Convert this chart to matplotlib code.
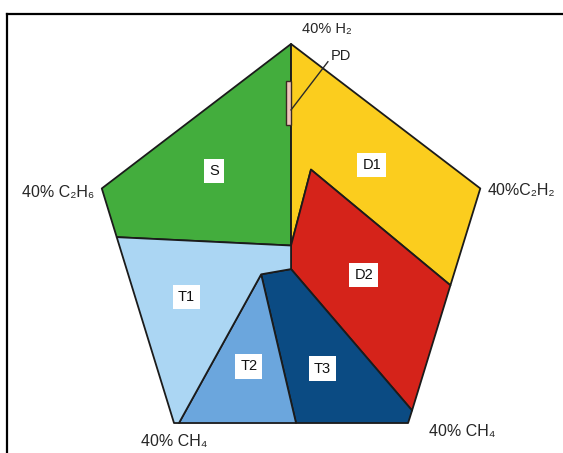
import matplotlib
matplotlib.use("Agg")
import matplotlib.pyplot as plt
from matplotlib.patches import Polygon
from matplotlib.lines import Line2D

plt.rcParams['font.family'] = ['Liberation Sans', 'DejaVu Sans']

# Duval Pentagon 1 zone boundaries (pentagon coordinates)
zone_names = ["S", "D1", "D2", "T3", "T2", "T1"]
zone_S = [(0, 1.5), (-35, 3.1), (-38, 12.4), (0, 40), (0, 1.5)]
zone_D1 = [(0, 40), (38, 12.4), (32, -6.1), (4, 16), (0, 1.5)]
zone_D2 = [(4, 16), (32, -6.1), (24.3, -30), (0, -3), (0, 1.5)]
zone_T3 = [(0, -3), (24.3, -30), (23.5, -32.4), (1, -32.4), (-6, -4)]
zone_T2 = [(-6, -4), (1, -32.4), (-22.5, -32.4)]
zone_T1 = [(-6, -4), (-22.5, -32.4), (-23.5, -32.4), (-35, 3.1), (0, 1.5), (0, -3)]
zone_PD = [(0, 33), (-1, 33), (-1, 24.5), (0, 24.5)]
zone_colors = ["#43ad3d", "#fbcd1e", "#d5231a", "#0b4b83", "#6ba6dd", "#abd6f3"]

# label anchor points for each zone
label_x = [-15.4, 16.2, 14.6, 6.3, -8.5, -21.0]
label_y = [15.7, 16.9, -4.1, -22.0, -21.6, -8.4]

vertex_labels = ["40% H₂", "40%C₂H₂", "40% CH₄", "40% CH₄", "40% C₂H₆"]

fig = plt.figure(figsize=(5.63, 4.53), dpi=100)
ax = fig.add_axes([0.1631, 0.0477, 0.7077, 0.8784])
ax.set_xlim(-40, 40)
ax.set_ylim(-34, 42)
ax.axis("off")

zones = [zone_S, zone_D1, zone_D2, zone_T3, zone_T2, zone_T1]
for pts, col in zip(zones, zone_colors):
    ax.add_patch(Polygon(pts, closed=True, facecolor=col, edgecolor="#1b1b1b",
                         linewidth=1.3, joinstyle="round"))

ax.add_patch(Polygon(zone_PD, closed=True, facecolor="#efc5bc", edgecolor="#3a2a22",
                     linewidth=1.0))

for name, x, y in zip(zone_names, label_x, label_y):
    ax.text(x, y, name, ha="center", va="center", fontsize=10.5, color="#111111",
            bbox=dict(boxstyle="square,pad=0.35", facecolor="white", edgecolor="none"))

# PD callout
ax.plot([0, 7.4], [27.4, 36.6], color="#2a2a2a", linewidth=1.0)
ax.text(10.0, 37.7, "PD", ha="center", va="center", fontsize=10.5, color="#222222")

# vertex captions
txt_kw = dict(fontsize=11.5, color="#262626", clip_on=False)
ax.text(7.2, 42.8, vertex_labels[0], ha="center", va="center", fontsize=10.5,
        color="#262626", clip_on=False)
ax.text(39.5, 12.0, vertex_labels[1], ha="left", va="center", **txt_kw)
ax.text(34.3, -34.06, vertex_labels[2], ha="center", va="center", **txt_kw)
ax.text(-23.4, -35.97, vertex_labels[3], ha="center", va="center", **txt_kw)
ax.text(-39.6, 11.7, vertex_labels[4], ha="right", va="center", **txt_kw)

# outer frame (left and top edges)
W, H = 563, 453
fx, fy = 7 / W, 1 - 14 / H
fig.add_artist(Line2D([fx, fx], [0, fy], transform=fig.transFigure, color="black", linewidth=1.6))
fig.add_artist(Line2D([fx, 1], [fy, fy], transform=fig.transFigure, color="black", linewidth=1.6))

fig.savefig("out.png", dpi=100)
